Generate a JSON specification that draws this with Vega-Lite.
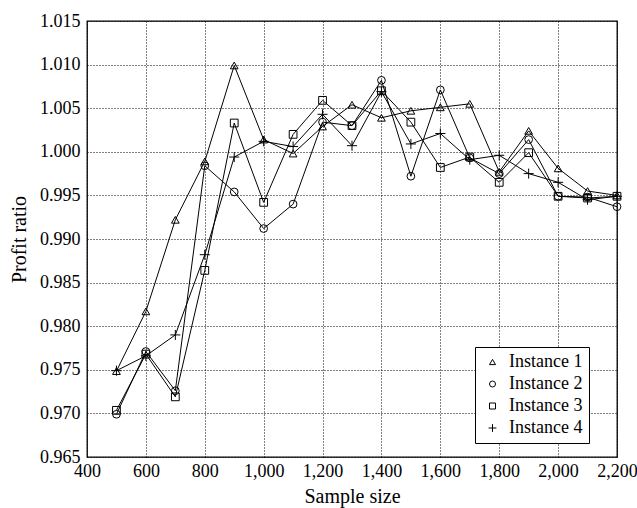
{
  "$schema": "https://vega.github.io/schema/vega-lite/v6.json",
  "autosize": {"type": "none"},
  "padding": {"left": 87, "top": 21, "right": 20, "bottom": 51},
  "width": 530,
  "height": 436,
  "background": "white",
  "config": {
    "font": "Liberation Serif",
    "view": {"stroke": "black", "strokeWidth": 1.3},
    "axis": {
      "labelFont": "Liberation Serif",
      "titleFont": "Liberation Serif",
      "labelFontSize": 18,
      "titleFontSize": 20,
      "titleFontWeight": "normal",
      "labelColor": "black",
      "titleColor": "black",
      "domain": false,
      "gridColor": "black",
      "gridOpacity": 1,
      "gridDash": [1, 2],
      "gridWidth": 1,
      "tickColor": "black",
      "tickSize": 0
    },
    "legend": {
      "labelFont": "Liberation Serif",
      "labelFontSize": 18,
      "labelColor": "black"
    }
  },
  "data": {
    "values": [
      {"size": 500, "ratio": 0.97485, "series": "Instance 1"},
      {"size": 600, "ratio": 0.9817, "series": "Instance 1"},
      {"size": 700, "ratio": 0.9922, "series": "Instance 1"},
      {"size": 800, "ratio": 0.9989, "series": "Instance 1"},
      {"size": 900, "ratio": 1.0099, "series": "Instance 1"},
      {"size": 1000, "ratio": 1.0014, "series": "Instance 1"},
      {"size": 1100, "ratio": 0.9998, "series": "Instance 1"},
      {"size": 1200, "ratio": 1.0029, "series": "Instance 1"},
      {"size": 1300, "ratio": 1.0054, "series": "Instance 1"},
      {"size": 1400, "ratio": 1.0039, "series": "Instance 1"},
      {"size": 1500, "ratio": 1.0047, "series": "Instance 1"},
      {"size": 1600, "ratio": 1.0051, "series": "Instance 1"},
      {"size": 1700, "ratio": 1.0055, "series": "Instance 1"},
      {"size": 1800, "ratio": 0.9977, "series": "Instance 1"},
      {"size": 1900, "ratio": 1.0024, "series": "Instance 1"},
      {"size": 2000, "ratio": 0.9981, "series": "Instance 1"},
      {"size": 2100, "ratio": 0.9955, "series": "Instance 1"},
      {"size": 2200, "ratio": 0.9950, "series": "Instance 1"},

      {"size": 500, "ratio": 0.9699, "series": "Instance 2"},
      {"size": 600, "ratio": 0.9771, "series": "Instance 2"},
      {"size": 700, "ratio": 0.9726, "series": "Instance 2"},
      {"size": 800, "ratio": 0.9984, "series": "Instance 2"},
      {"size": 900, "ratio": 0.9954, "series": "Instance 2"},
      {"size": 1000, "ratio": 0.9912, "series": "Instance 2"},
      {"size": 1100, "ratio": 0.9940, "series": "Instance 2"},
      {"size": 1200, "ratio": 1.0034, "series": "Instance 2"},
      {"size": 1300, "ratio": 1.0030, "series": "Instance 2"},
      {"size": 1400, "ratio": 1.0082, "series": "Instance 2"},
      {"size": 1500, "ratio": 0.9972, "series": "Instance 2"},
      {"size": 1600, "ratio": 1.0071, "series": "Instance 2"},
      {"size": 1700, "ratio": 0.9993, "series": "Instance 2"},
      {"size": 1800, "ratio": 0.9975, "series": "Instance 2"},
      {"size": 1900, "ratio": 1.0014, "series": "Instance 2"},
      {"size": 2000, "ratio": 0.9949, "series": "Instance 2"},
      {"size": 2100, "ratio": 0.9948, "series": "Instance 2"},
      {"size": 2200, "ratio": 0.9937, "series": "Instance 2"},

      {"size": 500, "ratio": 0.97035, "series": "Instance 3"},
      {"size": 600, "ratio": 0.9768, "series": "Instance 3"},
      {"size": 700, "ratio": 0.9719, "series": "Instance 3"},
      {"size": 800, "ratio": 0.9864, "series": "Instance 3"},
      {"size": 900, "ratio": 1.0033, "series": "Instance 3"},
      {"size": 1000, "ratio": 0.9942, "series": "Instance 3"},
      {"size": 1100, "ratio": 1.0020, "series": "Instance 3"},
      {"size": 1200, "ratio": 1.0059, "series": "Instance 3"},
      {"size": 1300, "ratio": 1.0030, "series": "Instance 3"},
      {"size": 1400, "ratio": 1.0070, "series": "Instance 3"},
      {"size": 1500, "ratio": 1.0034, "series": "Instance 3"},
      {"size": 1600, "ratio": 0.9982, "series": "Instance 3"},
      {"size": 1700, "ratio": 0.9994, "series": "Instance 3"},
      {"size": 1800, "ratio": 0.9965, "series": "Instance 3"},
      {"size": 1900, "ratio": 0.9999, "series": "Instance 3"},
      {"size": 2000, "ratio": 0.9949, "series": "Instance 3"},
      {"size": 2100, "ratio": 0.9947, "series": "Instance 3"},
      {"size": 2200, "ratio": 0.9949, "series": "Instance 3"},

      {"size": 500, "ratio": 0.9749, "series": "Instance 4"},
      {"size": 600, "ratio": 0.9766, "series": "Instance 4"},
      {"size": 700, "ratio": 0.9790, "series": "Instance 4"},
      {"size": 800, "ratio": 0.9882, "series": "Instance 4"},
      {"size": 900, "ratio": 0.9994, "series": "Instance 4"},
      {"size": 1000, "ratio": 1.0012, "series": "Instance 4"},
      {"size": 1100, "ratio": 1.0006, "series": "Instance 4"},
      {"size": 1200, "ratio": 1.0043, "series": "Instance 4"},
      {"size": 1300, "ratio": 1.0007, "series": "Instance 4"},
      {"size": 1400, "ratio": 1.0069, "series": "Instance 4"},
      {"size": 1500, "ratio": 1.0009, "series": "Instance 4"},
      {"size": 1600, "ratio": 1.0021, "series": "Instance 4"},
      {"size": 1700, "ratio": 0.9991, "series": "Instance 4"},
      {"size": 1800, "ratio": 0.9996, "series": "Instance 4"},
      {"size": 1900, "ratio": 0.9975, "series": "Instance 4"},
      {"size": 2000, "ratio": 0.9965, "series": "Instance 4"},
      {"size": 2100, "ratio": 0.9945, "series": "Instance 4"},
      {"size": 2200, "ratio": 0.9949, "series": "Instance 4"}
    ]
  },
  "encoding": {
    "x": {
      "field": "size", "type": "quantitative", "title": "Sample size",
      "scale": {"domain": [400, 2200], "nice": false, "zero": false},
      "axis": {"values": [400, 600, 800, 1000, 1200, 1400, 1600, 1800, 2000, 2200], "format": ",d", "labelPadding": 5, "titlePadding": 6, "labelFlush": false, "labelOverlap": false}
    },
    "y": {
      "field": "ratio", "type": "quantitative", "title": "Profit ratio",
      "scale": {"domain": [0.965, 1.015], "nice": false, "zero": false},
      "axis": {"values": [0.965, 0.97, 0.975, 0.98, 0.985, 0.99, 0.995, 1.0, 1.005, 1.01, 1.015], "format": ".3f", "labelPadding": 7, "titlePadding": 10, "labelFlush": false, "labelOverlap": false}
    }
  },
  "layer": [
    {
      "mark": {"type": "line", "color": "black", "strokeWidth": 1},
      "encoding": {
        "opacity": {
          "field": "series", "type": "nominal",
          "scale": {"domain": ["Instance 1", "Instance 2", "Instance 3", "Instance 4"], "range": [1, 1, 1, 1]},
          "legend": {
            "title": null,
            "orient": "none",
            "legendX": 388,
            "legendY": 326,
            "fillColor": "white",
            "strokeColor": "black",
            "padding": 6,
            "rowPadding": 4,
            "symbolSize": 36,
            "symbolOffset": 2.5,
            "symbolStrokeColor": "black",
            "symbolFillColor": "transparent",
            "symbolStrokeWidth": 1,
            "labelOffset": 7.5,
            "encode": {
              "symbols": {
                "update": {
                  "shape": {"signal": "datum.value === 'Instance 1' ? 'M-3.6,0.7H3.6M0,-1.3L1.2,0.7L-1.2,0.7Z' : datum.value === 'Instance 2' ? 'M-3.6,0H-1M1,0H3.6M1,0A1,1,0,1,1,-1,0A1,1,0,1,1,1,0' : datum.value === 'Instance 3' ? 'M-3.6,0H-1M1,0H3.6M-1,-1H1V1H-1Z' : 'M-3.6,0H3.6M0,-1.5V1.5'"},
                  "fill": {"value": "transparent"},
                  "stroke": {"value": "black"},
                  "opacity": {"value": 1}
                }
              }
            }
          }
        }
      }
    },
    {
      "mark": {"type": "point", "filled": false, "color": "black", "strokeWidth": 1, "size": 60, "opacity": 1},
      "encoding": {
        "shape": {
          "field": "series", "type": "nominal",
          "scale": {"domain": ["Instance 1", "Instance 2", "Instance 3", "Instance 4"], "range": ["triangle-up", "circle", "square", "M-1.3,0H1.3M0,-1.3V1.3"]},
          "legend": null
        }
      }
    }
  ]
}
